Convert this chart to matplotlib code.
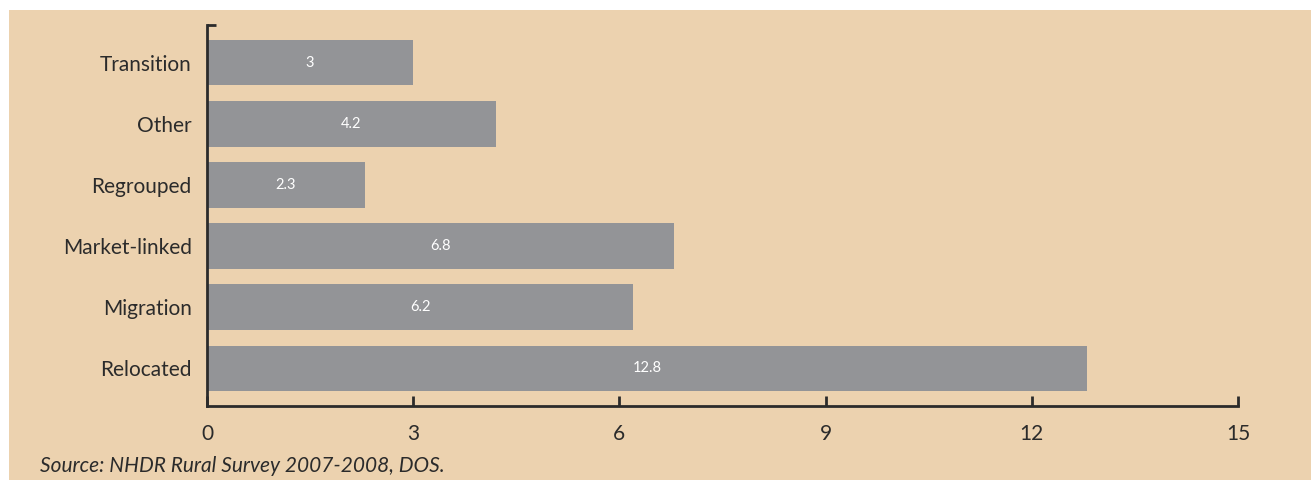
import matplotlib
matplotlib.use('Agg')
import matplotlib.pyplot as plt
from matplotlib.patches import Rectangle

categories = ["Relocated", "Migration", "Market-linked", "Regrouped", "Other", "Transition"]
values = [12.8, 6.2, 6.8, 2.3, 4.2, 3]
xticks = [0, 3, 6, 9, 12, 15]
source = "Source: NHDR Rural Survey 2007-2008, DOS."

BG = "#ecd2af"
BAR = "#939497"
INK = "#2b2b2b"

plt.rcParams['font.family'] = ['Lato', 'DejaVu Sans']

fig = plt.figure(figsize=(13.11, 4.8), dpi=100)
fig.patch.set_facecolor("white")
fig.patches.append(Rectangle((9 / 1311, 0), 1, 470 / 480, transform=fig.transFigure,
                             facecolor=BG, edgecolor="none", zorder=-10))

ax = fig.add_axes([207 / 1311, 74 / 480, 1031 / 1311, 381 / 480])
ax.set_zorder(1)
ax.set_facecolor("none")

y = range(len(categories))
ax.barh(y, values, height=0.74, color=BAR, zorder=2)
for yi, v in zip(y, values):
    ax.text(v / 2, yi, f"{v:g}", color="white", ha="center", va="center", fontsize=10.5, zorder=3)

ax.set_xlim(0, 15)
ax.set_ylim(-0.62, 5.62)
ax.set_xticks(xticks)
ax.set_xticklabels([str(t) for t in xticks], fontsize=15, color=INK)
ax.set_yticks(list(y))
ax.set_yticklabels(categories, fontsize=15, color=INK)

ax.tick_params(axis="x", direction="in", length=7, width=2, color=INK, pad=13)
ax.tick_params(axis="y", length=0, pad=11)

for side in ["top", "right"]:
    ax.spines[side].set_visible(False)
for side in ["left", "bottom"]:
    ax.spines[side].set_linewidth(2)
    ax.spines[side].set_color(INK)

# small cap at the top of the y axis
ax.plot([0, 0.13], [5.62, 5.62], color=INK, lw=2, clip_on=False, solid_capstyle="butt")

fig.text(40 / 1311, 1 - 466 / 480, source, fontsize=15, style="italic", color=INK,
         ha="left", va="center")

fig.savefig("out.png", dpi=100, facecolor="white")
plt.close(fig)
